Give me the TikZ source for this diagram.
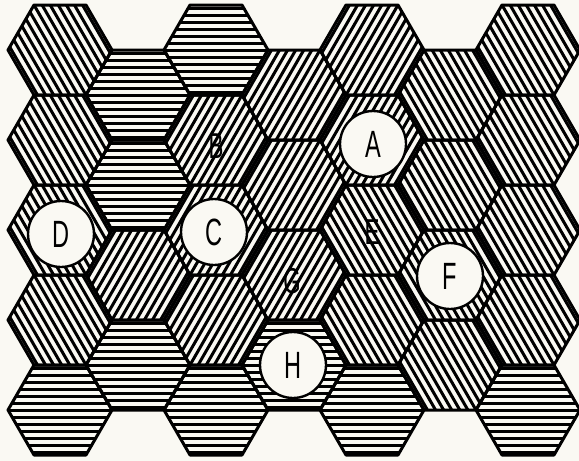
\documentclass[tikz,border=0pt]{standalone}
\usepackage{fontspec}
\setmainfont{Liberation Sans}
\definecolor{paper}{RGB}{250,249,243}
\tikzset{
  hexborder/.style={line width=3pt, line join=round},
  hatchline/.style={line width=3pt},
  disc/.style={circle, draw, line width=2.4pt, fill=paper, minimum size=66pt, inner sep=0pt,
    font=\fontsize{38}{38}\selectfont},
  hexlabel/.style={inner sep=0pt, font=\fontsize{36}{36}\selectfont},
}
\newcommand\hexcell[3]{%
  \begin{scope}
    \clip (#1+52,#2) -- (#1+26,#2+45) -- (#1-26,#2+45) -- (#1-52,#2) -- (#1-26,#2-45) -- (#1+26,#2-45) -- cycle;
    \begin{scope}[shift={(#1,#2)}, rotate=#3]
      \foreach \k in {-9,...,9} \draw[hatchline] (-70,\k*7) -- (70,\k*7);
    \end{scope}
  \end{scope}
  \draw[hexborder] (#1+52,#2) -- (#1+26,#2+45) -- (#1-26,#2+45) -- (#1-52,#2) -- (#1-26,#2-45) -- (#1+26,#2-45) -- cycle;
}
\begin{document}
\begin{tikzpicture}[x=1pt,y=-1pt]
\fill[paper] (0,0) rectangle (579,461);
\useasboundingbox (0,0) rectangle (579,461);
% column 0
\hexcell{60}{50}{-60}
\hexcell{60}{140}{-60}
\hexcell{60}{230}{-60}
\hexcell{60}{320}{-60}
\hexcell{60}{410}{0}
% column 1
\hexcell{138}{95}{0}
\hexcell{138}{185}{0}
\hexcell{138}{275}{60}
\hexcell{138}{365}{0}
% column 2
\hexcell{216}{50}{0}
\hexcell{216}{140}{60}
\hexcell{216}{230}{60}
\hexcell{216}{320}{60}
\hexcell{216}{410}{0}
% column 3
\hexcell{294}{95}{60}
\hexcell{294}{185}{60}
\hexcell{294}{275}{60}
\hexcell{294}{365}{0}
% column 4
\hexcell{372}{50}{60}
\hexcell{372}{140}{60}
\hexcell{372}{230}{-60}
\hexcell{372}{320}{-60}
\hexcell{372}{410}{0}
% column 5
\hexcell{450}{95}{-60}
\hexcell{450}{185}{-60}
\hexcell{450}{275}{-60}
\hexcell{450}{365}{-60}
% column 6
\hexcell{528}{50}{-60}
\hexcell{528}{140}{-60}
\hexcell{528}{230}{-60}
\hexcell{528}{320}{-60}
\hexcell{528}{410}{0}
% circled letters
\node[disc] (A) at (373,144) {\scalebox{0.62}[1]{A}};
\node[disc] (C) at (214,232) {\scalebox{0.62}[1]{C}};
\node[disc] (D) at (61,234) {\scalebox{0.62}[1]{D}};
\node[disc] (F) at (450,276) {\scalebox{0.62}[1]{F}};
\node[disc] (H) at (293,365) {\scalebox{0.62}[1]{H}};
% letters on hexes
\node[hexlabel] (B) at (216,146) {\scalebox{0.62}[1]{B}};
\node[hexlabel] (E) at (372,232) {\scalebox{0.62}[1]{E}};
\node[hexlabel] (G) at (292,281) {\scalebox{0.62}[1]{G}};
\end{tikzpicture}
\end{document}
